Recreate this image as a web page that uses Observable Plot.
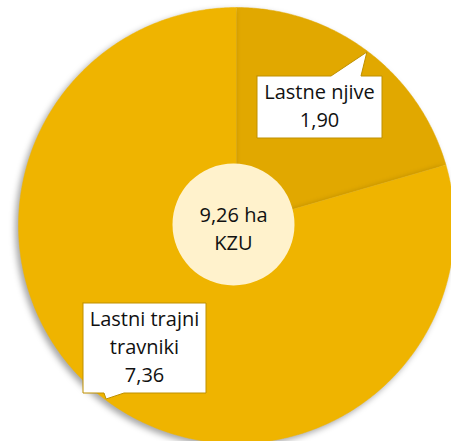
<!DOCTYPE html>
<html>
<head>
<meta charset="utf-8">
<script src="https://cdn.jsdelivr.net/npm/d3@7"></script>
<script src="https://cdn.jsdelivr.net/npm/@observablehq/plot@0.6"></script>
<style>
  html, body { margin: 0; padding: 0; background: #fff; }
  svg { display: block; }
</style>
</head>
<body>
<script>
// ---- data ----
const categories = ["Lastne njive", "Lastni trajni travniki"];
const values = [1.90, 7.36];
const categoryLines = [["Lastne njive"], ["Lastni trajni", "travniki"]];
const sliceColors = ["#E1A800", "#EFB400"];
const totalUnit = "ha";
const totalName = "KZU";

// ---- layout (pixels) ----
const W = 451, H = 441;
const layout = {
  cx: 236, cy: 225, r: 218,
  holeCx: 233, holeCy: 224, holeR: 61,
  fontSize: 20, lineHeight: 28,
  callouts: [
    {x0: 256.5, x1: 381.5, y0: 75.5, y1: 137.5, side: "top", b0: 330.5, b1: 360.5, tx: 319},
    {x0: 82.5, x1: 205.5, y0: 302.5, y1: 392.5, side: "bottom", b0: 103.5, b1: 123.5, tx: 144}
  ]
};

const fmt = v => d3.format(".2f")(v).replace(".", ",");
const total = d3.sum(values);

const pie = d3.pie().sort(null).value(d => d.value).startAngle(0).endAngle(2 * Math.PI);
const arcs = pie(categories.map((c, i) => ({name: c, value: values[i], color: sliceColors[i]})));

const pt = (a, rad) => ({x: layout.cx + rad * Math.sin(a), y: layout.cy - rad * Math.cos(a)});

// slice polygons
const slicePolys = arcs.map(a => {
  const pts = [{x: layout.cx, y: layout.cy}];
  const n = Math.max(8, Math.ceil((a.endAngle - a.startAngle) / (Math.PI / 360)));
  for (let k = 0; k <= n; k++) {
    pts.push(pt(a.startAngle + (a.endAngle - a.startAngle) * k / n, layout.r));
  }
  return {color: a.data.color, pts};
});

// callouts
const calloutPolys = arcs.map((a, i) => {
  const c = layout.callouts[i];
  const tip = pt((a.startAngle + a.endAngle) / 2, layout.r - 1);
  let pts;
  if (c.side === "top") {
    pts = [{x: c.x0, y: c.y0}, {x: c.b0, y: c.y0}, tip, {x: c.b1, y: c.y0}, {x: c.x1, y: c.y0},
           {x: c.x1, y: c.y1}, {x: c.x0, y: c.y1}, {x: c.x0, y: c.y0}];
  } else {
    pts = [{x: c.x0, y: c.y0}, {x: c.x1, y: c.y0}, {x: c.x1, y: c.y1}, {x: c.b1, y: c.y1}, tip,
           {x: c.b0, y: c.y1}, {x: c.x0, y: c.y1}, {x: c.x0, y: c.y0}];
  }
  const lines = [...categoryLines[i], fmt(a.data.value)];
  return {pts, lines, tx: c.tx, cyText: (c.y0 + c.y1) / 2};
});

const labelRows = [];
calloutPolys.forEach(c => {
  const n = c.lines.length;
  c.lines.forEach((t, k) => {
    labelRows.push({text: t, x: c.tx, y: c.cyText + (k - (n - 1) / 2) * layout.lineHeight});
  });
});
const centerLines = [fmt(total) + " " + totalUnit, totalName];
centerLines.forEach((t, k) => {
  labelRows.push({text: t, x: layout.holeCx, y: layout.holeCy + 5 + (k - 0.5) * layout.lineHeight});
});

const marks = [];
slicePolys.forEach(s => {
  marks.push(Plot.line(s.pts, {x: "x", y: "y", fill: s.color, stroke: s.color, strokeWidth: 0.5,
    imageFilter: "drop-shadow(-3px 3px 3px rgba(0,0,0,0.35))"}));
});
marks.push(Plot.dot([{x: layout.holeCx, y: layout.holeCy}], {x: "x", y: "y", r: layout.holeR, fill: "#FFF2CC", stroke: null}));
calloutPolys.forEach(c => {
  marks.push(Plot.line(c.pts, {x: "x", y: "y", fill: "#ffffff", stroke: "#BF9000", strokeWidth: 1, curve: "linear"}));
});
marks.push(Plot.text(labelRows, {x: "x", y: "y", text: "text", fill: "#111111",
  fontSize: layout.fontSize, textAnchor: "middle", lineAnchor: "middle"}));

const chart = Plot.plot({
  width: W, height: H, margin: 0,
  x: {type: "linear", domain: [0, W], range: [0, W], axis: null},
  y: {type: "linear", domain: [0, H], range: [0, H], axis: null},
  style: {fontFamily: "'Open Sans', sans-serif", background: "#fff", overflow: "hidden"},
  marks
});
document.body.append(chart);
</script>
</body>
</html>
